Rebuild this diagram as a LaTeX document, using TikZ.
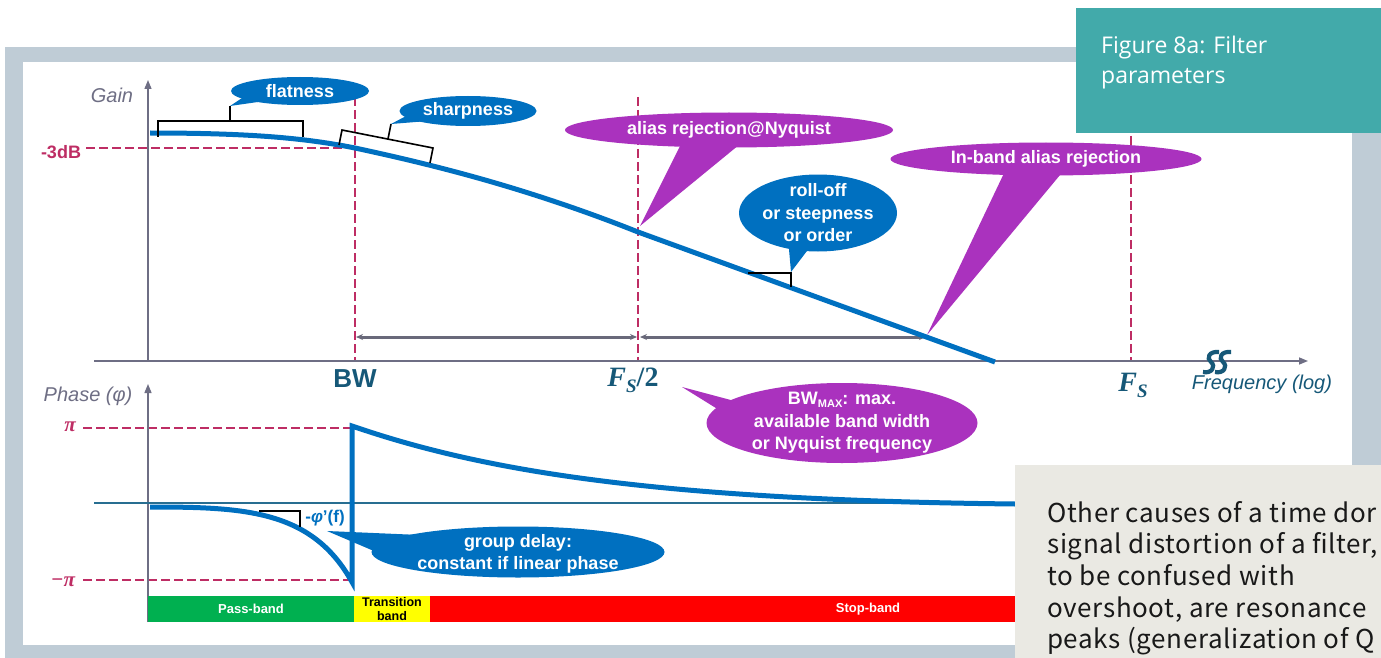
\RequirePackage{fix-cm}
\documentclass[tikz,border=0pt]{standalone}
\usepackage{fontspec}
\setmainfont{Liberation Sans}
\newfontfamily\figfont{Open Sans}
\newfontfamily\notefont[LetterSpace=2.5]{Noto Sans CJK JP}
\newfontfamily\serifb{Liberation Serif}
\usetikzlibrary{shapes.geometric,arrows.meta,calc}
\definecolor{framegray}{RGB}{191,204,214}
\definecolor{fblue}{RGB}{0,112,192}
\definecolor{fpurple}{RGB}{170,50,190}
\definecolor{crim}{RGB}{190,45,100}
\definecolor{axgray}{RGB}{110,110,132}
\definecolor{lblteal}{RGB}{22,88,120}
\definecolor{zeroteal}{RGB}{40,110,145}
\definecolor{arrgray}{RGB}{105,105,122}
\definecolor{pgreen}{RGB}{0,176,80}
\definecolor{pyellow}{RGB}{255,255,0}
\definecolor{pred}{RGB}{255,0,0}
\definecolor{figteal}{RGB}{66,170,170}
\definecolor{notebg}{RGB}{234,233,227}
\definecolor{notetext}{RGB}{25,25,25}
\newcommand{\fslabel}[1]{{\serifb\bfseries\itshape F\raisebox{-6pt}{\fontsize{19}{19}\selectfont S}}{\serifb\bfseries #1}}
\begin{document}
\begin{tikzpicture}[x=1pt,y=-1pt,
  dashln/.style={crim, line width=2.8, dash pattern=on 9pt off 4pt},
  axisln/.style={axgray, line width=1.4, -{Triangle[length=9pt,width=7pt]}},
  curve/.style={fblue, line width=5},
  bubble/.style={ellipse, inner sep=0pt, fill=#1},
  btext/.style={text=white, font=\bfseries\fontsize{18}{22.5}\selectfont, align=center, inner sep=0pt},
  brk/.style={black, line width=1.6},
  dimarrow/.style={arrgray, line width=3, {Stealth[length=7pt,width=6pt]}-{Stealth[length=7pt,width=6pt]}},
  band/.style={inner sep=0pt, minimum height=26pt, font=\bfseries\fontsize{13}{14}\selectfont, align=center},
  notestyle/.style={anchor=base west, inner sep=0pt, text=notetext, font=\notefont\fontsize{26}{30}\selectfont},
  figstyle/.style={anchor=base west, inner sep=0pt, text=white, font=\figfont\fontsize{23}{27}\selectfont},
  pilabel/.style={text=crim, font=\serifb\bfseries\itshape\fontsize{21}{21}\selectfont},
]
\useasboundingbox (0,0) rectangle (1381,658);
% frame
\fill[framegray] (5,47) rectangle (1381,658);
\fill[white] (23,62) rectangle (1352,645);
% dashed reference lines
\draw[dashln] (86,148) -- (355,148);
\draw[dashln] (355,97) -- (355,361);
\draw[dashln, line width=2.3] (638,97) -- (638,361);
\draw[dashln, line width=2.3] (1131,97) -- (1131,361);
\draw[dashln] (83,428) -- (352,428);
\draw[dashln] (83,580) -- (352,580);
% axes
\coordinate (g0) at (148,361);
\coordinate (gtop) at (148,80);
\coordinate (xl) at (94,361);
\coordinate (xr) at (1308,361);
\coordinate (p0) at (148,622);
\coordinate (ptop) at (148,384);
\draw[axisln] (g0) -- (gtop);
\draw[axisln] (xl) -- (xr);
\draw[axisln] (p0) -- (ptop);
\draw[zeroteal, line width=1.4] (94,503) -- (1100,503);
% break mark
\foreach \dx in {0,12}{
  \draw[lblteal, line width=4.2, shift={(\dx,0)}] (1203,372) .. controls (1212,374) and (1216,366) .. (1211,362) .. controls (1206,358) and (1209,351) .. (1219,352);
}
% dimension arrows
\coordinate (dA) at (356,337);
\coordinate (dB) at (637,337);
\coordinate (dC) at (640,337);
\coordinate (dD) at (926,337);
\draw[dimarrow] (dA) -- (dB);
\draw[dimarrow] (dC) -- (dD);
% curves
\draw[curve] (150,133) .. controls (250,133) and (305,138) .. (355,148) .. controls (420,162) and (520,185) .. (638,232) -- (995,362);
\draw[curve, line join=miter, miter limit=4] (150,507) .. controls (245,507) and (312,510) .. (352,582) -- (352,426) .. controls (480,470) and (650,500) .. (1015,504) -- (1100,504);
% brackets
\coordinate (flattip) at (230,106);
\draw[brk] (158,137) -- (158,121) -- (303,121) -- (303,137);
\draw[brk] (230,121) -- (flattip);
\coordinate (sharptip) at (391,124);
\draw[brk] (339,145) -- (342,130) -- (433,148) -- (430,163);
\draw[brk] (388,139) -- (sharptip);
\coordinate (rolltip) at (791,272);
\draw[brk] (748,273) -- (791,273) -- (791,287);
\draw[brk] (259,511) -- (300,511) -- (300,527);
% bubbles
\coordinate (flatc) at (300,91);
\fill[fblue] ($(flatc)+(-55,5)$) -- (flattip) -- ($(flatc)+(-35,10)$) -- cycle;
\node[bubble=fblue, minimum width=138pt, minimum height=28pt] (flat) at (flatc) {};
\node[btext] (flatt) at (flat) {flatness};

\coordinate (sharpc) at (468,111);
\fill[fblue] ($(sharpc)+(-60,4)$) -- (sharptip) -- ($(sharpc)+(-40,10)$) -- cycle;
\node[bubble=fblue, minimum width=137pt, minimum height=30pt] (sharp) at (sharpc) {};
\node[btext] (sharpt) at (sharp) {sharpness};

\coordinate (aliasc) at (729,130);
\coordinate (aliastip) at (640,226);
\fill[fpurple] ($(aliasc)+(-46,10)$) -- (aliastip) -- ($(aliasc)+(16,10)$) -- cycle;
\node[bubble=fpurple, minimum width=328pt, minimum height=35pt] (alias) at (aliasc) {};
\node[btext] (aliast) at (alias) {alias rejection@Nyquist};

\coordinate (inbc) at (1046,159);
\coordinate (inbtip) at (927,335);
\fill[fpurple] ($(inbc)+(-40,10)$) -- (inbtip) -- ($(inbc)+(19,10)$) -- cycle;
\node[bubble=fpurple, minimum width=311pt, minimum height=33pt] (inb) at (inbc) {};
\node[btext] (inbt) at (inb) {In-band alias rejection};

\coordinate (rollc) at (818,213);
\fill[fblue] ($(rollc)+(-30,25)$) -- (rolltip) -- ($(rollc)+(-5,30)$) -- cycle;
\node[bubble=fblue, minimum width=158pt, minimum height=77pt] (roll) at (rollc) {};
\node[btext] (rollt) at (roll) {roll-off\\or steepness\\or order};

\coordinate (bwmc) at (842,423);
\coordinate (bwmtip) at (682,387);
\fill[fpurple] ($(bwmc)+(-100,-20)$) -- (bwmtip) -- ($(bwmc)+(-110,-5)$) -- cycle;
\node[bubble=fpurple, minimum width=271pt, minimum height=80pt] (bwm) at (bwmc) {};
\node[btext] (bwmt) at (bwm) {BW\raisebox{-3pt}{\fontsize{11}{11}\selectfont MAX}: max.\\available band width\\or Nyquist frequency};

\coordinate (grpc) at (518,552);
\coordinate (grptip) at (327,531);
\fill[fblue] ($(grpc)+(-98,-17)$) -- (grptip) -- ($(grpc)+(-130,5)$) -- cycle;
\node[bubble=fblue, minimum width=293pt, minimum height=51pt] (grp) at (grpc) {};
\node[btext] (grpt) at (518,554) {group delay:\\constant if linear phase};
% labels
\node[font=\itshape\fontsize{20}{24}\selectfont, text=axgray] (gainl) at (112,95) {Gain};
\node[font=\itshape\fontsize{20}{24}\selectfont, text=axgray] (phasel) at (88,396) {Phase (φ)};
\node[font=\bfseries\fontsize{18}{20}\selectfont, text=crim] (m3db) at (61,152) {-3dB};
\node[pilabel] (pil) at (70,427) {π};
\node[pilabel] (mpil) at (63,582) {−π};
\node[text=lblteal, font=\bfseries\fontsize{26}{26}\selectfont] (bwl) at (355,379) {BW};
\node[text=lblteal, font=\fontsize{28}{28}\selectfont] (fs2l) at (633,380) {\fslabel{/2}};
\node[text=lblteal, font=\fontsize{28}{28}\selectfont] (fsl) at (1133,385) {\fslabel{}};
\node[text=lblteal, font=\itshape\fontsize{20}{24}\selectfont] (freql) at (1262,384) {Frequency (log)};
\node[text=fblue, font=\bfseries\fontsize{17}{17}\selectfont] (phid) at (325,518) {-\textit{φ}’(f)};
% bands
\node[band, fill=pgreen, text=white, minimum width=206pt] (pass) at (251,609) {Pass-band};
\node[band, fill=pyellow, text=black, minimum width=76pt, font=\bfseries\fontsize{12.5}{13.5}\selectfont] (trans) at (392,609) {Transition\\band};
\node[band, fill=pred, text=white, minimum width=876pt] (stop) at (868,609) {Stop-band};
% figure caption box
\fill[figteal] (1076,8) rectangle (1381,133);
\node[figstyle] (fig1) at (1101,54) {Figure 8a: Filter};
\node[figstyle] (fig2) at (1101,84) {parameters};
% note box
\fill[notebg] (1015,465) rectangle (1381,658);
\begin{scope}
\clip (1015,465) rectangle (1381,658);
\node[notestyle] (n1) at (1047,522) {Other causes of a time dor};
\node[notestyle] (n2) at (1047,553) {signal distortion of a filter,};
\node[notestyle] (n3) at (1047,585) {to be confused with};
\node[notestyle] (n4) at (1047,617) {overshoot, are resonance};
\node[notestyle] (n5) at (1047,648) {peaks (generalization of Q};
\end{scope}
\end{tikzpicture}
\end{document}
